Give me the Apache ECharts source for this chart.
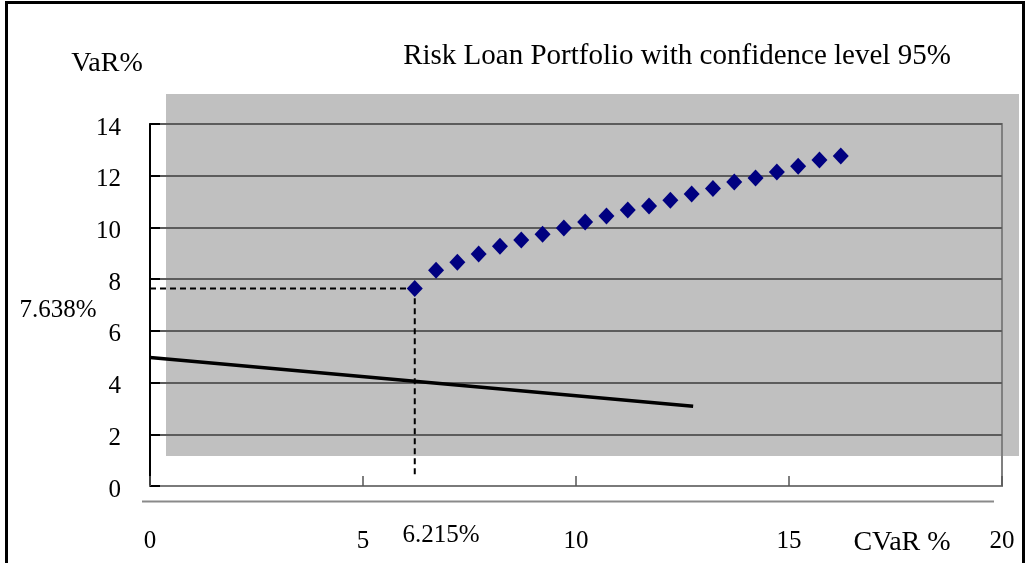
<!DOCTYPE html>
<html>
<head>
<meta charset="utf-8">
<title>Risk Loan Portfolio with confidence level 95%</title>
<script src="https://cdn.jsdelivr.net/npm/echarts@6/dist/echarts.min.js"></script>
<style>
  html, body { margin: 0; padding: 0; background: #ffffff; }
  #chart { width: 1027px; height: 563px; }
</style>
</head>
<body>
<div id="chart"></div>
<script>
// Efficient frontier points: CVaR (%) against VaR (%)
const cvarValues = [6.215, 6.715, 7.215, 7.715, 8.215, 8.715, 9.215, 9.715, 10.215, 10.715,
                    11.215, 11.715, 12.215, 12.715, 13.215, 13.715, 14.215, 14.715, 15.215, 15.715, 16.215];
const varValues  = [7.638, 8.34, 8.65, 8.97, 9.27, 9.51, 9.74, 9.98, 10.21, 10.44,
                    10.67, 10.83, 11.05, 11.29, 11.51, 11.76, 11.91, 12.14, 12.37, 12.61, 12.76];

// Straight reference line (start and end points)
const refLineX = [0, 12.75];
const refLineY = [4.97, 3.08];

// Marked optimum and its guide lines
const optimumCvar = 6.215;
const optimumVar = 7.638;
const guideBottom = 0.45;

// Axis ranges and ticks
const xTicks = { min: 0, max: 20, interval: 5 };
const yTicks = { min: 0, max: 14, interval: 2 };

// Texts
const titleText = 'Risk Loan Portfolio with confidence level 95%';
const yName = 'VaR%';
const xName = 'CVaR %';
const optimumCvarLabel = '6.215%';
const optimumVarLabel = '7.638%';

const serif = '"Liberation Serif", "Times New Roman", serif';

const frontier = cvarValues.map((x, i) => [x, varValues[i]]);
const refLine = refLineX.map((x, i) => [x, refLineY[i]]);
const vGuide = [[optimumCvar, guideBottom], [optimumCvar, optimumVar]];
const hGuide = [[0, optimumVar], [optimumCvar, optimumVar]];

const chart = echarts.init(document.getElementById('chart'), null, { renderer: 'canvas' });

chart.setOption({
  animation: false,
  backgroundColor: '#ffffff',
  grid: {
    left: 150, right: 25, top: 124, bottom: 77,
    show: true,
    borderColor: '#808080',
    borderWidth: 2,
    backgroundColor: 'transparent'
  },
  xAxis: {
    type: 'value',
    min: xTicks.min, max: xTicks.max, interval: xTicks.interval,
    axisLine: { show: true, lineStyle: { color: '#7a7a7a', width: 2 } },
    axisTick: { show: true, inside: true, length: 10, lineStyle: { color: '#555555', width: 1.5 } },
    splitLine: { show: false },
    axisLabel: { color: '#000', fontFamily: serif, fontSize: 25, margin: 43 }
  },
  yAxis: {
    type: 'value',
    min: yTicks.min, max: yTicks.max, interval: yTicks.interval,
    axisLine: { show: true, lineStyle: { color: '#000', width: 2 } },
    axisTick: { show: true, inside: true, length: 10, lineStyle: { color: '#000', width: 2 } },
    splitLine: { show: true, lineStyle: { color: '#5c5c5c', width: 2 } },
    axisLabel: { color: '#000', fontFamily: serif, fontSize: 25, margin: 29, verticalAlign: 'top', lineHeight: 8 }
  },
  graphic: {
    elements: [
      // shaded plot backdrop
      { type: 'rect', z: -10, shape: { x: 166, y: 94, width: 853, height: 362 },
        style: { fill: '#c0c0c0' }, silent: true },
      // outer frame
      { type: 'rect', z: 10, shape: { x: 6.5, y: 2.5, width: 1017, height: 620 },
        style: { fill: 'none', stroke: '#000', lineWidth: 3 }, silent: true },
      // secondary rule under the x axis
      { type: 'line', z: 5, shape: { x1: 142, y1: 501.5, x2: 994, y2: 501.5 },
        style: { stroke: '#8a8a8a', lineWidth: 2 }, silent: true },
      { type: 'text', z: 20, x: 677, y: 56,
        style: { text: titleText, font: '29px ' + serif, fill: '#000', textAlign: 'center', textVerticalAlign: 'middle' } },
      { type: 'text', z: 20, x: 107, y: 64,
        style: { text: yName, font: '28px ' + serif, fill: '#000', textAlign: 'center', textVerticalAlign: 'middle' } },
      { type: 'text', z: 20, x: 902, y: 543,
        style: { text: xName, font: '28px ' + serif, fill: '#000', textAlign: 'center', textVerticalAlign: 'middle' } },
      { type: 'text', z: 20, x: 441, y: 535,
        style: { text: optimumCvarLabel, font: '25px ' + serif, fill: '#000', textAlign: 'center', textVerticalAlign: 'middle' } },
      { type: 'text', z: 20, x: 58, y: 310,
        style: { text: optimumVarLabel, font: '25px ' + serif, fill: '#000', textAlign: 'center', textVerticalAlign: 'middle' } }
    ]
  },
  series: [
    {
      name: 'reference', type: 'line', data: refLine,
      showSymbol: false, symbol: 'none', z: 3,
      lineStyle: { color: '#000', width: 3.5 }
    },
    {
      name: 'cvarGuide', type: 'line', data: vGuide,
      showSymbol: false, symbol: 'none', z: 3,
      lineStyle: { color: '#000', width: 2, type: [6, 4] }
    },
    {
      name: 'varGuide', type: 'line', data: hGuide,
      showSymbol: false, symbol: 'none', z: 3,
      lineStyle: { color: '#000', width: 2, type: [6, 4] }
    },
    {
      name: 'frontier', type: 'scatter', data: frontier,
      symbol: 'diamond', symbolSize: [16, 17], z: 4,
      itemStyle: { color: '#000080', opacity: 1 }
    }
  ]
});
</script>
</body>
</html>
